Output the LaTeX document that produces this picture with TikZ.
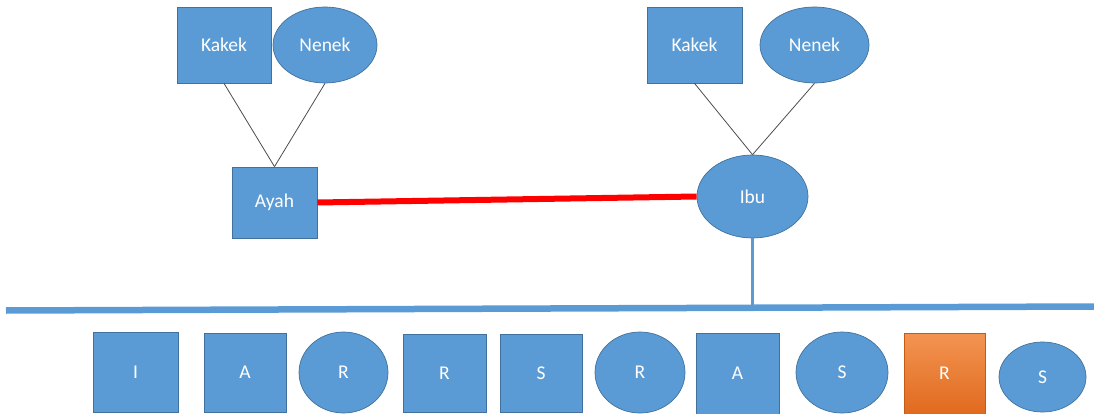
\documentclass[tikz,border=0pt]{standalone}
\usepackage{fontspec}
\setmainfont{Carlito}
\usetikzlibrary{shapes.geometric}
\definecolor{obl}{HTML}{5B9BD5}
\definecolor{obd}{HTML}{41719C}
\definecolor{ortop}{HTML}{F39452}
\definecolor{orbot}{HTML}{E06A1E}
\definecolor{ordk}{HTML}{C55A11}
\definecolor{redl}{HTML}{FF0000}
\tikzset{
  base/.style={inner sep=0pt, text=white, font=\fontsize{19.5}{21}\selectfont, line width=0.7pt},
  sq/.style={base, rectangle, fill=obl, draw=obd},
  ov/.style={base, ellipse, fill=obl, draw=obd},
  osq/.style={base, rectangle, top color=ortop, bottom color=orbot, draw=ordk},
  thin/.style={draw=black!70, line width=0.8pt},
  marriage/.style={draw=redl, line width=6pt},
  bar/.style={draw=obl, line width=6.5pt},
  drop/.style={draw=obl, line width=3pt},
}
\begin{document}
\begin{tikzpicture}[x=1pt, y=-1pt]
\useasboundingbox (0,0) rectangle (1094,414);
% grandparents left
\node[sq, minimum width=94pt, minimum height=76pt] (kk1) at (224,45) {Kakek};
\node[ov, minimum width=104pt, minimum height=76pt] (nn1) at (325,45) {Nenek};
\node[sq, minimum width=85pt, minimum height=71pt] (ayah) at (274.5,202.5) {Ayah};
% grandparents right
\node[sq, minimum width=95pt, minimum height=76pt] (kk2) at (694.5,45) {Kakek};
\node[ov, minimum width=109pt, minimum height=76pt] (nn2) at (814.5,45) {Nenek};
\node[ov, minimum width=111pt, minimum height=83pt] (ibu) at (752.5,196.5) {Ibu};
% connectors
\draw[thin] (kk1.south) -- (ayah.north);
\draw[thin] (nn1.south) -- (ayah.north);
\draw[thin] (kk2.south) -- (ibu.north);
\draw[thin] (nn2.south) -- (ibu.north);
\draw[marriage] (ayah.east) -- (ibu.west);
\coordinate (hl) at (6,310.5);
\coordinate (hr) at (1094,306.5);
\coordinate (vj) at (752.5,305);
\draw[drop] (ibu.south) -- (vj);
\draw[bar] (hl) -- (hr);
% children
\node[sq, minimum width=85pt, minimum height=80pt] (c1) at (135.5,372) {I};
\node[sq, minimum width=82pt, minimum height=79pt] (c2) at (245,372.5) {A};
\node[ov, minimum width=89pt, minimum height=81pt] (c3) at (343.5,372.5) {R};
\node[sq, minimum width=83pt, minimum height=78pt] (c4) at (444.5,373) {R};
\node[sq, minimum width=82pt, minimum height=78pt] (c5) at (541,373) {S};
\node[ov, minimum width=90pt, minimum height=81pt] (c6) at (640,372.5) {R};
\node[sq, minimum width=83pt, minimum height=81pt] (c7) at (737.5,373.5) {A};
\node[ov, minimum width=92pt, minimum height=81pt] (c8) at (842,372.5) {S};
\node[osq, minimum width=81pt, minimum height=81pt] (c9) at (944.5,373.5) {R};
\node[ov, minimum width=87pt, minimum height=70pt] (c10) at (1042.5,377) {S};
\end{tikzpicture}
\end{document}
